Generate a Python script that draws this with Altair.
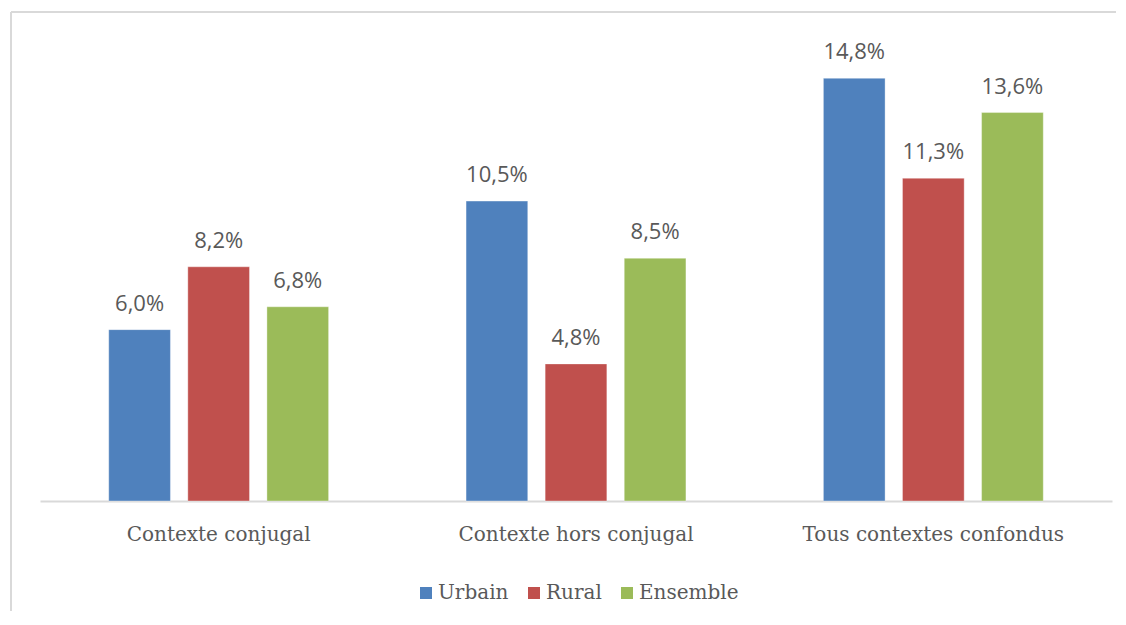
import altair as alt
import pandas as pd

categories = ["Contexte conjugal", "Contexte hors conjugal", "Tous contextes confondus"]
series = ["Urbain", "Rural", "Ensemble"]
urbain = [6.0, 10.5, 14.8]
rural = [8.2, 4.8, 11.3]
ensemble = [6.8, 8.5, 13.6]
colors = ["#4F81BD", "#C0504D", "#9BBB59"]

rows = []
for s, vals in zip(series, [urbain, rural, ensemble]):
    for c, v in zip(categories, vals):
        rows.append({"cat": c, "serie": s, "val": v,
                     "lab": f"{v:.1f}".replace(".", ",") + "%"})
df = pd.DataFrame(rows)

W, H = 1072, 457
serif = "DejaVu Serif"
sans = "Open Sans"

x = alt.X("cat:N", sort=categories, title=None,
          scale=alt.Scale(paddingInner=0.336, paddingOuter=0.168),
          axis=alt.Axis(labelAngle=0, labelFont=serif, labelFontSize=20,
                        labelColor="#595959", labelPadding=23, ticks=False,
                        labelLimit=600,
                        domainColor="#D9D9D9", domainWidth=2, grid=False))
xo = alt.XOffset("serie:N", sort=series,
                 scale=alt.Scale(paddingInner=0.22, paddingOuter=0.11))
y = alt.Y("val:Q", scale=alt.Scale(domain=[0, 16]), axis=None)

base = alt.Chart(df).encode(x=x, xOffset=xo, y=y)

bars = base.mark_bar(strokeWidth=1, strokeOpacity=0.35, stroke="white").encode(
    color=alt.Color("serie:N", sort=series,
                    scale=alt.Scale(domain=series, range=colors),
                    legend=alt.Legend(title=None, orient="none", direction="horizontal",
                                      legendX=376, legendY=539,
                                      symbolType="square", symbolSize=144,
                                      symbolStrokeWidth=0,
                                      labelFont=serif, labelFontSize=20,
                                      labelColor="#595959", labelOffset=2,
                                      columnPadding=15))
)

labels = base.mark_text(baseline="alphabetic", dy=-19, font=sans, fontSize=22,
                        color="#595959").encode(text="lab:N")

frame_left = alt.Chart(df).mark_rule(color="#D9D9D9", strokeWidth=2).encode(
    x=alt.value(-29), y=alt.value(-32), y2=alt.value(H + 110))
frame_top = alt.Chart(df).mark_rule(color="#D9D9D9", strokeWidth=2).encode(
    x=alt.value(-29), x2=alt.value(W + 4), y=alt.value(-32))

chart = alt.layer(frame_left, frame_top, bars, labels).properties(
    width=W, height=H,
    padding={"left": 2, "top": 3, "right": 0, "bottom": 0},
    background="white",
).configure_view(stroke=None)

chart.save("out.html", embed_options={"renderer": "svg", "actions": False})
